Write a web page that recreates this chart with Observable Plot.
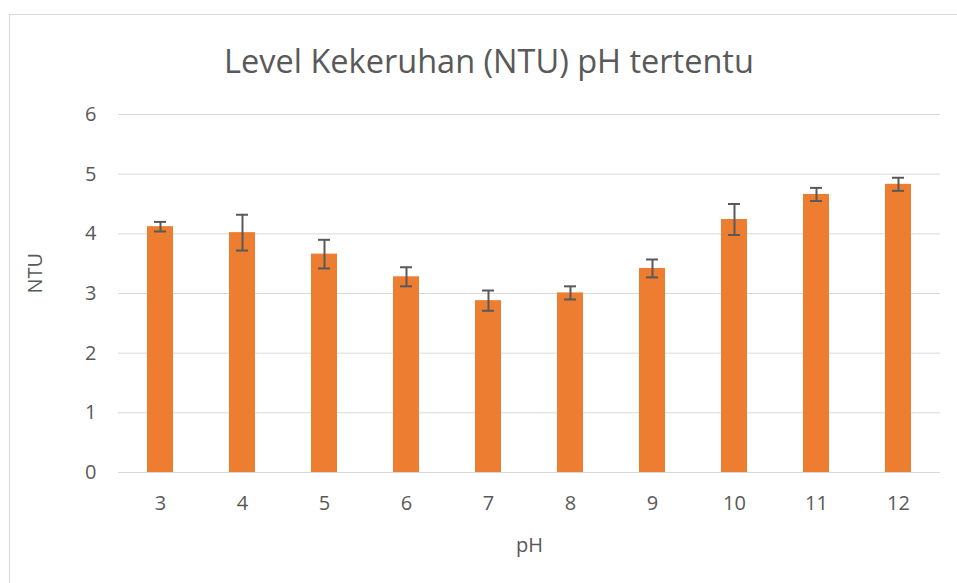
<!DOCTYPE html>
<html>
<head>
<meta charset="utf-8">
<script src="https://cdn.jsdelivr.net/npm/d3@7"></script>
<script src="https://cdn.jsdelivr.net/npm/@observablehq/plot@0.6"></script>
<style>
  html, body { margin: 0; padding: 0; background: #fff; }
  body { width: 957px; height: 583px; position: relative; overflow: hidden; font-family: "Open Sans", sans-serif; }
  #frame { position: absolute; left: 9px; top: 14px; width: 1000px; height: 620px; border: 1px solid #d9d9d9; box-sizing: border-box; }
  #title { position: absolute; left: 0; top: 41px; width: 978px; text-align: center; font-size: 32.5px; color: #595959; line-height: 1.2; }
  #chart { position: absolute; left: 0; top: 0; }
</style>
</head>
<body>
<div id="frame"></div>
<div id="title">Level Kekeruhan (NTU) pH tertentu</div>
<div id="chart"></div>
<script>
const phLevels = ["3", "4", "5", "6", "7", "8", "9", "10", "11", "12"];
const ntuValues = [4.12, 4.02, 3.66, 3.28, 2.88, 3.01, 3.42, 4.24, 4.66, 4.83];
const ntuErrors = [0.08, 0.30, 0.24, 0.16, 0.17, 0.11, 0.15, 0.26, 0.11, 0.11];
const yTicks = [0, 1, 2, 3, 4, 5, 6];

const data = phLevels.map((ph, i) => ({ph, ntu: ntuValues[i], err: ntuErrors[i]}));

const plot = Plot.plot({
  width: 957,
  height: 583,
  marginLeft: 118,
  marginRight: 17,
  marginTop: 114,
  marginBottom: 111,
  style: { fontFamily: "Open Sans, sans-serif", fontSize: "20px", color: "#595959", background: "transparent" },
  x: { domain: phLevels, paddingInner: 0.685, paddingOuter: 0.3425, label: null },
  y: { domain: [0, 6], label: null },
  marks: [
    Plot.gridY(yTicks, { stroke: "#d9d9d9", strokeOpacity: 1, strokeWidth: 1 }),
    Plot.barY(data, { x: "ph", y: "ntu", fill: "#ED7D31" }),
    Plot.ruleX(data, { x: "ph", y1: d => d.ntu - d.err, y2: d => d.ntu + d.err, stroke: "#595959", strokeWidth: 2 }),
    Plot.tickY(data, { x: "ph", y: d => d.ntu + d.err, stroke: "#595959", strokeWidth: 2, insetLeft: 7, insetRight: 7 }),
    Plot.tickY(data, { x: "ph", y: d => d.ntu - d.err, stroke: "#595959", strokeWidth: 2, insetLeft: 7, insetRight: 7 }),
    Plot.axisX({ tickSize: 0, tickPadding: 23, label: null, fontSize: 20 }),
    Plot.axisY(yTicks, { tickSize: 0, tickPadding: 22, label: null, tickFormat: d => String(d), fontSize: 20 }),
    Plot.text(["pH"], { frameAnchor: "bottom", lineAnchor: "middle", dy: 73, fontSize: 20, fill: "#595959", text: d => d }),
    Plot.text(["NTU"], { frameAnchor: "left", dx: -83, rotate: -90, fontSize: 20, fill: "#595959", text: d => d })
  ]
});
document.getElementById("chart").appendChild(plot);
</script>
</body>
</html>
